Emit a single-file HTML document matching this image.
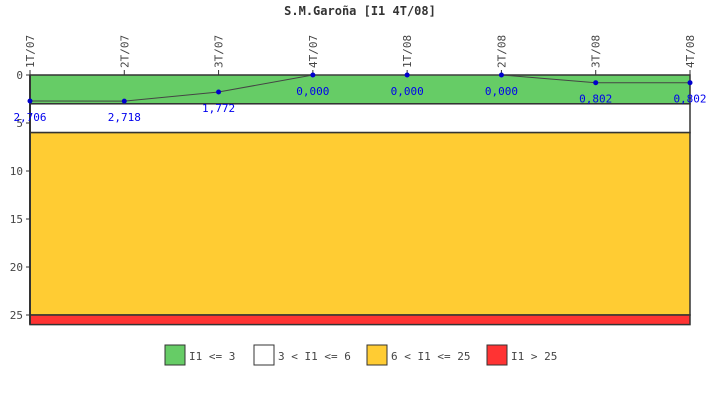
<!DOCTYPE html>
<html><head><meta charset="utf-8"><style>
body{margin:0;background:#fff;width:720px;height:400px;overflow:hidden;font-family:"DejaVu Sans Mono","Liberation Mono",monospace}
</style></head><body>
<svg id="c" width="720" height="400" xmlns="http://www.w3.org/2000/svg"></svg>
<script>
const categories=["1T/07","2T/07","3T/07","4T/07","1T/08","2T/08","3T/08","4T/08"];
const values=[2.706,2.718,1.772,0,0,0,0.802,0.802];
const valueLabels=["2,706","2,718","1,772","0,000","0,000","0,000","0,802","0,802"];
const yTicks=[0,5,10,15,20,25];
const bandLimits=[0,3,6,25,26];
const bandColors=["#66cc66","#ffffff","#ffcc33","#ff3333"];
const legendLabels=["I1 <= 3","3 < I1 <= 6","6 < I1 <= 25","I1 > 25"];
const NS="http://www.w3.org/2000/svg";
const svg=document.getElementById('c');
const X0=30,X1=690,Y0=75,PPU=9.6;
const x=i=>X0+i*(X1-X0)/(categories.length-1);
const y=v=>Y0+v*PPU;
function mk(t,a,p){const e=document.createElementNS(NS,t);for(const k in a)e.setAttribute(k,a[k]);(p||svg).appendChild(e);return e;}
const title=mk('text',{x:360,y:15,'text-anchor':'middle','font-size':12,'font-weight':'bold',fill:'#333','font-family':'"DejaVu Sans Mono",monospace'});
title.textContent='S.M.Garoña [I1 4T/08]';


for(let b=0;b<bandColors.length;b++){
 const r=mk('rect',{x:X0,y:y(bandLimits[b]),width:X1-X0,height:y(bandLimits[b+1])-y(bandLimits[b]),fill:bandColors[b],stroke:'#333','stroke-width':1.5});
 
 
}
mk('line',{x1:X0,y1:Y0,x2:X0,y2:y(26),stroke:'#333','stroke-width':2});
yTicks.forEach(t=>{
 mk('line',{x1:X0-4,y1:y(t),x2:X0,y2:y(t),stroke:'#333'});
 const tx=mk('text',{x:X0-7,y:y(t)+4,'text-anchor':'end','font-size':11,fill:'#444'});
 tx.textContent=t;
 
 
});
categories.forEach((c,i)=>{
 mk('line',{x1:x(i),y1:Y0-5,x2:x(i),y2:Y0,stroke:'#333'});
 const tx=mk('text',{x:0,y:0,transform:`translate(${x(i)+4},${Y0-7}) rotate(-90)`,'font-size':11,fill:'#444'});
 tx.textContent=c;
 
 
});
const pl=mk('polyline',{points:values.map((v,i)=>x(i)+','+y(v)).join(' '),fill:'none',stroke:'#444','stroke-width':1});


values.forEach((v,i)=>{
 const p=mk('circle',{cx:x(i),cy:y(v),r:2.5,fill:'#0000cc'});
 
 
 const t=mk('text',{x:x(i),y:y(v)+20,'text-anchor':'middle','font-size':11,fill:'#0000ee'});
 t.textContent=valueLabels[i];
 
 
});
const lx=[165,254,367,487];
legendLabels.forEach((l,i)=>{
 const g=mk('g',{});
 
 
 mk('rect',{x:lx[i],y:345,width:20,height:20,fill:bandColors[i],stroke:'#333'},g);
 const t=mk('text',{x:lx[i]+24,y:360,'font-size':11,fill:'#444'},g);
 t.textContent=l;
});
</script>
</body></html>
